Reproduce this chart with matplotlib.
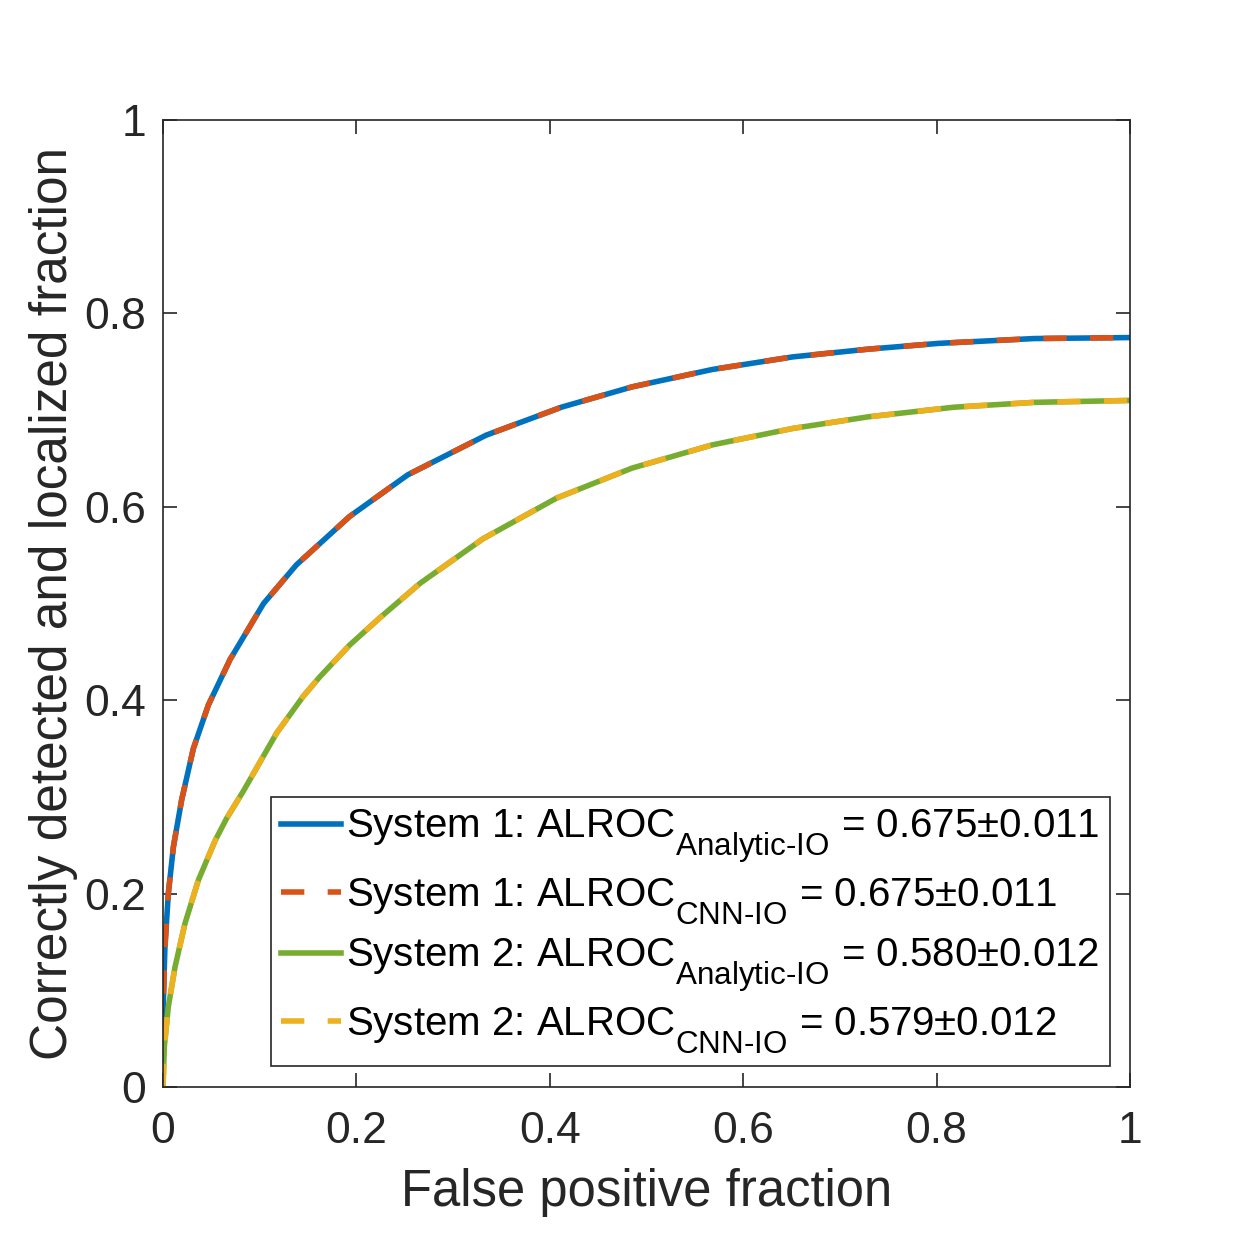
import matplotlib
matplotlib.use("Agg")
import matplotlib.pyplot as plt
import matplotlib._mathtext as _mt

# MATLAB-like subscripts: a bit larger and dropped lower
_mt.SHRINK_FACTOR = 0.78
_mt.FontConstantsBase.sub1 = 0.85

# ---- data ----
fpf1 = [0, 0.0, 0.002, 0.0055, 0.0107, 0.0193, 0.0314, 0.0469, 0.0693, 0.104,
        0.138, 0.193, 0.253, 0.334, 0.412, 0.485, 0.568, 0.651, 0.729, 0.802,
        0.901, 1.0]
llf1 = [0, 0.076, 0.145, 0.200, 0.248, 0.297, 0.350, 0.395, 0.442, 0.500,
        0.540, 0.590, 0.633, 0.674, 0.703, 0.724, 0.742, 0.755, 0.763, 0.769,
        0.774, 0.775]
fpf2 = [0, 0.0014, 0.0055, 0.0124, 0.0227, 0.0366, 0.054, 0.0659, 0.0831,
        0.1003, 0.1175, 0.145, 0.162, 0.193, 0.224, 0.266, 0.331, 0.407, 0.485,
        0.568, 0.651, 0.729, 0.818, 0.901, 1.0]
llf2 = [0, 0.042, 0.083, 0.124, 0.169, 0.214, 0.255, 0.278, 0.306, 0.336,
        0.366, 0.404, 0.424, 0.457, 0.485, 0.521, 0.567, 0.609, 0.640, 0.664,
        0.681, 0.693, 0.703, 0.708, 0.710]

labels = [
    r"System 1: ALROC$_{\mathrm{Analytic\text{-}IO}}$ = 0.675±0.011",
    r"System 1: ALROC$_{\mathrm{CNN\text{-}IO}}$ = 0.675±0.011",
    r"System 2: ALROC$_{\mathrm{Analytic\text{-}IO}}$ = 0.580±0.012",
    r"System 2: ALROC$_{\mathrm{CNN\text{-}IO}}$ = 0.579±0.012",
]
colors = ["#0072BD", "#D95319", "#77AC30", "#EDB120"]
ticks = [0, 0.2, 0.4, 0.6, 0.8, 1]
ticklabels = ["0", "0.2", "0.4", "0.6", "0.8", "1"]

plt.rcParams["font.family"] = ["Liberation Sans", "DejaVu Sans"]
plt.rcParams["mathtext.fontset"] = "custom"
plt.rcParams["mathtext.rm"] = "Liberation Sans"
plt.rcParams["mathtext.it"] = "Liberation Sans:italic"
plt.rcParams["mathtext.bf"] = "Liberation Sans:bold"

tc = "#262626"
fig = plt.figure(figsize=(12.5, 12.5), dpi=100)
ax = fig.add_axes([0.1304, 0.1304, 0.7736, 0.7736])

lw = 4.0
dash = (4.2, 4.2)
ax.plot(fpf1, llf1, color=colors[0], lw=lw, label=labels[0])
ax.plot(fpf1, llf1, color=colors[1], lw=lw, dashes=dash, label=labels[1])
ax.plot(fpf2, llf2, color=colors[2], lw=lw, label=labels[2])
ax.plot(fpf2, llf2, color=colors[3], lw=lw, dashes=dash, label=labels[3])

ax.set_xlim(0, 1)
ax.set_ylim(0, 1)
ax.set_xticks(ticks)
ax.set_xticklabels(ticklabels)
ax.set_yticks(ticks)
ax.set_yticklabels(ticklabels)
ax.tick_params(direction="in", length=10, width=1.2, colors=tc, labelsize=32,
               top=True, right=True)
ax.tick_params(axis="x", pad=17)
ax.tick_params(axis="y", pad=12)
for s in ax.spines.values():
    s.set_color(tc)
    s.set_linewidth(1.2)

ax.set_xlabel("False positive fraction", fontsize=36.5, color=tc, labelpad=12)
ax.set_ylabel("Correctly detected and localized fraction", fontsize=37, color=tc,
              labelpad=5)

leg = ax.legend(loc="lower right", bbox_to_anchor=(0.979, 0.0217), fontsize=29,
                frameon=True, fancybox=False, edgecolor=tc, framealpha=1,
                handlelength=1.5, handletextpad=0.12, borderaxespad=0,
                labelspacing=0.25, borderpad=0.25)
leg.get_frame().set_linewidth(1.2)
for t in leg.get_texts():
    t.set_color("black")

fig.savefig("out.png", dpi=100)
